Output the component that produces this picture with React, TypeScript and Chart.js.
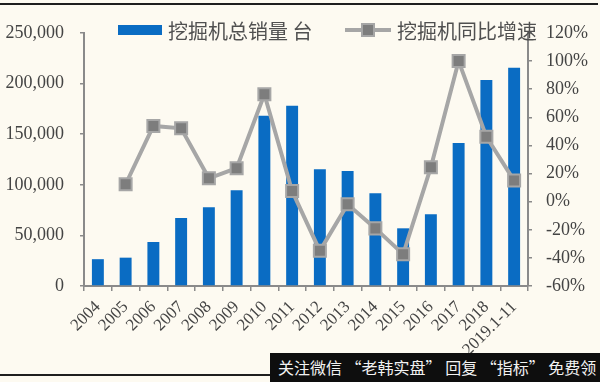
import React, { useEffect, useRef } from "react";
import { Chart, registerables } from "chart.js";

Chart.register(...registerables);

const categories = [
  "2004", "2005", "2006", "2007", "2008", "2009", "2010", "2011",
  "2012", "2013", "2014", "2015", "2016", "2017", "2018", "2019.1-11",
];
const salesUnits = [
  26500, 28000, 43500, 67200, 77800, 94600, 168300, 178200,
  115300, 113600, 91600, 57000, 70800, 141300, 203600, 215700,
];
const growthPct = [
  null, 12.4, 53.9, 52.2, 16.6, 23.8, 76.4, 7.6,
  -35.0, -1.9, -19.0, -37.4, 24.5, 100.0, 46.2, 15.0,
];
const leftTickValues = [0, 50000, 100000, 150000, 200000, 250000];
const rightTickValues = [-60, -40, -20, 0, 20, 40, 60, 80, 100, 120];
const legendLabels = ["挖掘机总销量 台", "挖掘机同比增速"];
const watermarkText = "关注微信 “老韩实盘” 回复 “指标” 免费领";

const BLUE = "#0a6cc3";
const LINE_GRAY = "#a6a6a6";
const MARK_GRAY = "#7d7d7d";
const AXIS_GRAY = "#8a8a8a";
const TEXT = "#444444";
const BG = "#fdfaf1";
const SERIF = "'Liberation Serif', 'Times New Roman', serif";
const CJK = "'Noto Sans CJK SC', sans-serif";

const legendPlugin = {
  id: "customLegend",
  afterDraw(chart: any) {
    const ctx = chart.ctx;
    ctx.save();
    // bar legend
    ctx.fillStyle = BLUE;
    ctx.fillRect(118, 25, 44, 10);
    ctx.font = `20px ${CJK}`;
    ctx.fillStyle = "#505050";
    ctx.textBaseline = "middle";
    ctx.textAlign = "left";
    ctx.fillText(legendLabels[0], 168, 31);
    // line legend
    ctx.strokeStyle = LINE_GRAY;
    ctx.lineWidth = 4;
    ctx.beginPath();
    ctx.moveTo(345, 30);
    ctx.lineTo(391, 30);
    ctx.stroke();
    ctx.fillStyle = MARK_GRAY;
    ctx.fillRect(362, 24, 12, 12);
    ctx.lineWidth = 2;
    ctx.strokeRect(362, 24, 12, 12);
    ctx.fillStyle = "#505050";
    ctx.fillText(legendLabels[1], 397, 31);
    ctx.restore();
  },
};

export default function App() {
  const canvasRef = useRef<HTMLCanvasElement | null>(null);

  useEffect(() => {
    if (!canvasRef.current) return;
    const chart = new Chart(canvasRef.current, {
      type: "bar",
      data: {
        labels: categories,
        datasets: [
          {
            type: "line",
            label: legendLabels[1],
            data: growthPct as any,
            yAxisID: "y1",
            order: 0,
            borderColor: LINE_GRAY,
            borderWidth: 4,
            tension: 0,
            pointStyle: "rect",
            pointRadius: 8.5,
            pointBackgroundColor: MARK_GRAY,
            pointBorderColor: LINE_GRAY,
            pointBorderWidth: 2,
          } as any,
          {
            type: "bar",
            label: legendLabels[0],
            data: salesUnits,
            yAxisID: "y",
            order: 1,
            backgroundColor: BLUE,
            barPercentage: 0.43,
            categoryPercentage: 1,
          },
        ],
      },
      options: {
        responsive: false,
        animation: false,
        devicePixelRatio: 1,
        layout: { padding: { top: 33, left: 0, right: 0, bottom: 0 } },
        plugins: {
          legend: { display: false },
          tooltip: { enabled: false },
        },
        scales: {
          x: {
            type: "category",
            grid: {
              display: true,
              drawOnChartArea: false,
              drawTicks: true,
              tickLength: 5,
              color: AXIS_GRAY,
              offset: true,
              lineWidth: 1.5,
            },
            border: { display: true, color: AXIS_GRAY, width: 2 },
            ticks: {
              maxRotation: 45,
              minRotation: 45,
              autoSkip: false,
              padding: 6,
              color: TEXT,
              font: { family: SERIF, size: 17 },
            },
            afterFit: (s: any) => {
              s.height = 96;
            },
          },
          y: {
            position: "left",
            min: 0,
            max: 250000,
            afterBuildTicks: (s: any) => {
              s.ticks = leftTickValues.map((v) => ({ value: v }));
            },
            grid: {
              display: true,
              drawOnChartArea: false,
              tickLength: 4,
              color: AXIS_GRAY,
              lineWidth: 1.5,
            },
            border: { display: true, color: AXIS_GRAY, width: 2 },
            ticks: {
              padding: 16,
              color: TEXT,
              font: { family: SERIF, size: 18 },
              callback: (v: any) => Number(v).toLocaleString("en-US"),
            },
            afterFit: (s: any) => {
              s.width = 84;
            },
          },
          y1: {
            position: "right",
            min: -60,
            max: 120,
            afterBuildTicks: (s: any) => {
              s.ticks = rightTickValues.map((v) => ({ value: v }));
            },
            grid: {
              display: true,
              drawOnChartArea: false,
              tickLength: 4,
              color: AXIS_GRAY,
              lineWidth: 1.5,
            },
            border: { display: true, color: AXIS_GRAY, width: 2 },
            ticks: {
              padding: 14,
              color: TEXT,
              font: { family: SERIF, size: 18 },
              callback: (v: any) => `${v}%`,
            },
            afterFit: (s: any) => {
              s.width = 72;
            },
          },
        },
      } as any,
      plugins: [legendPlugin],
    });
    return () => chart.destroy();
  }, []);

  return (
    <div
      style={{
        position: "fixed",
        left: 0,
        top: 0,
        width: 600,
        height: 382,
        background: BG,
        overflow: "hidden",
      }}
    >
      <canvas ref={canvasRef} width={600} height={382} style={{ display: "block" }} />
      <div style={{ position: "absolute", left: 0, top: 3, width: 598, height: 2, background: "#1e1e1e" }} />
      <div style={{ position: "absolute", left: 0, top: 374, width: 272, height: 2, background: "#1e1e1e" }} />
      <div
        style={{
          position: "absolute",
          left: 270,
          top: 353,
          width: 330,
          height: 29,
          background: "#0e0e0e",
          color: "#f2f2f2",
          fontFamily: CJK,
          fontSize: 16,
          lineHeight: "28px",
          paddingLeft: 8,
          boxSizing: "border-box",
          whiteSpace: "nowrap",
        }}
      >
        {watermarkText}
      </div>
    </div>
  );
}
